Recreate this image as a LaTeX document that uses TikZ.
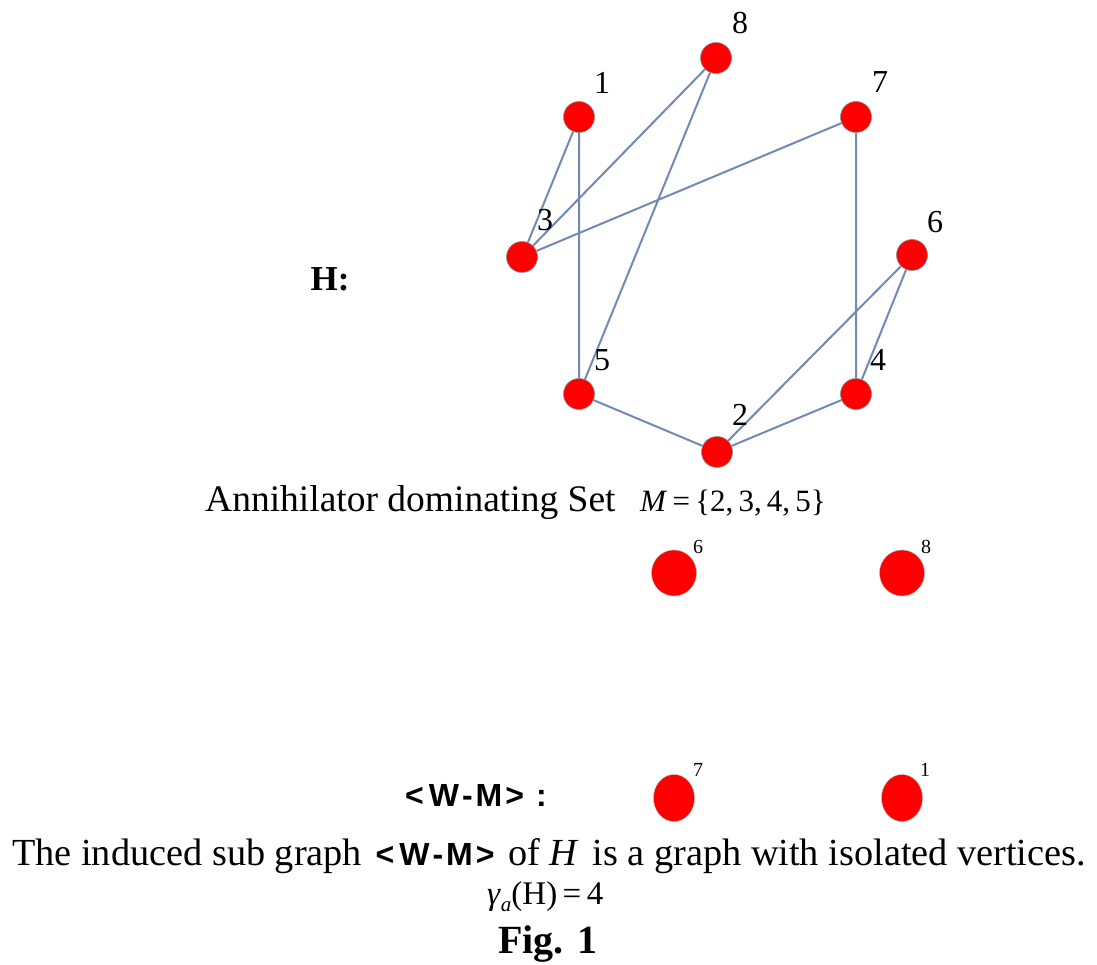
\documentclass[tikz,border=0pt]{standalone}
\usepackage{fontspec}
\setmainfont{Liberation Serif}
\newfontfamily\arialfont{Liberation Sans}
\usetikzlibrary{shapes.geometric}
\definecolor{edgecol}{RGB}{112,138,180}
\definecolor{vred}{RGB}{255,0,0}
\newcommand{\wm}{{\arialfont\bfseries <\hspace{5pt}W\hspace{3pt}-\hspace{3pt}M\hspace{3pt}>}}
\begin{document}
\begin{tikzpicture}[x=1pt,y=-1pt,
  vtx/.style={circle,fill=vred,draw=black!45,line width=0.6pt,minimum size=31pt,inner sep=0pt},
  iso/.style={ellipse,fill=vred,draw=black!30,line width=0.4pt,minimum width=45pt,minimum height=46pt,inner sep=0pt},
  iso2/.style={ellipse,fill=vred,draw=black!30,line width=0.4pt,minimum width=41pt,minimum height=47pt,inner sep=0pt},
  edg/.style={draw=edgecol,line width=2pt},
  lbl/.style={font=\fontsize{32}{32}\selectfont,inner sep=0pt},
  slbl/.style={font=\fontsize{20}{20}\selectfont,inner sep=0pt},
  txt/.style={inner sep=0pt,anchor=base west}]
\path[use as bounding box] (0,0) rectangle (1097,965);
% graph H
\node[vtx] (v8) at (716,58) {};
\node[vtx] (v1) at (579,117) {};
\node[vtx] (v7) at (856,117) {};
\node[vtx] (v3) at (522,257) {};
\node[vtx] (v6) at (912,255) {};
\node[vtx] (v5) at (579,394) {};
\node[vtx] (v4) at (856,394) {};
\node[vtx] (v2) at (717,452) {};
\path[edg] (v1) -- (v3) (v1) -- (v5) (v8) -- (v3) (v8) -- (v5) (v7) -- (v3)
  (v7) -- (v4) (v6) -- (v2) (v6) -- (v4) (v5) -- (v2) (v2) -- (v4);
\node[lbl] (l8) at (740,23) {8};
\node[lbl] (l1) at (602,83) {1};
\node[lbl] (l7) at (880,82) {7};
\node[lbl] (l3) at (545,220) {3};
\node[lbl] (l6) at (935,222) {6};
\node[lbl] (l5) at (602,360) {5};
\node[lbl] (l4) at (878,360) {4};
\node[lbl] (l2) at (740,415) {2};
\node[inner sep=0pt,font=\fontsize{35}{35}\selectfont\bfseries] (hlab) at (330,279) {H:};
% caption of M
\node[txt,font=\fontsize{37.5}{37.5}\selectfont] (ann) at (205,511) {Annihilator dominating Set};
\node[txt,font=\fontsize{31}{31}\selectfont] (mset) at (640,511) {\textit{M}\,=\,\{2,\,3,\,4,\,5\}};
% induced subgraph
\node[iso] (w6) at (674,573) {};
\node[iso] (w8) at (902,573) {};
\node[iso2] (w7) at (674,798) {};
\node[iso2] (w1) at (902,798) {};
\node[slbl] (m6) at (698,547) {6};
\node[slbl] (m8) at (926,547) {8};
\node[slbl] (m7) at (698,770) {7};
\node[slbl] (m1) at (925,770) {1};
\node[txt,font=\fontsize{32}{32}\selectfont] (wmlab) at (405,806) {\wm\hspace{12pt}{\arialfont\bfseries :}};
\node[txt,font=\fontsize{38.3}{38.3}\selectfont] (induced) at (12,865) {The induced sub graph\hspace{4pt} {\fontsize{32}{32}\selectfont\wm}\hspace{4pt} of \textit{H}\hspace{4pt} is a graph with isolated vertices.};
\node[txt,font=\fontsize{33}{33}\selectfont] (gamma) at (487,904) {\textit{γ}\raisebox{-0.22em}{\fontsize{21}{21}\selectfont\textit{a}}(H)\,=\,4};
\node[txt,font=\fontsize{40}{40}\selectfont\bfseries] (fig) at (498,953) {Fig. 1};
\end{tikzpicture}
\end{document}
